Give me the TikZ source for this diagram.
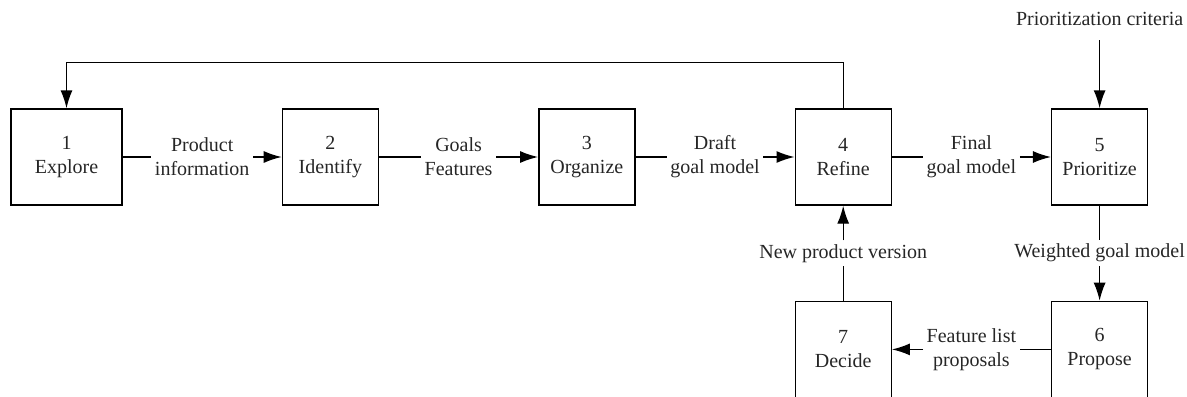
\documentclass[tikz,border=0pt]{standalone}
\usepackage{fontspec}
\setmainfont{Liberation Serif}
\usetikzlibrary{positioning,arrows.meta}

\begin{document}
\begin{tikzpicture}[
                    stage/.style={draw, line width=0.7pt, minimum width=48pt,
                    minimum height=48pt, align=center, text=black!85,
                    font=\fontsize{10}{12}\selectfont},
                    flow/.style={align=center, inner sep=1.5pt, text=black!85,
                    font=\fontsize{10}{12}\selectfont},
                    >={Latex[length=9pt,width=6pt]}, line width=0.7pt,
                ]
                \useasboundingbox (-33.25pt,78.5pt) rectangle (560.25pt,-119.5pt);
                \node[stage, minimum width=55.5pt] (explore) {1\\Explore};
                \node[stage] (identify) [right=79.5pt of explore] {2\\Identify};
                \node[stage] (organize) [right=79.5pt of identify] {3\\Organize};
                \node[stage] (refine) [right=79.5pt of organize] {4\\Refine};
                \node[stage] (prioritize) [right=79.5pt of refine] {5\\Prioritize};
                \node[stage] (propose) [below=47.5pt of prioritize] {6\\Propose};
                \node[stage] (decide) [left=79.5pt of propose] {7\\Decide};

                % labels on the flows
                \path (explore.east) -- node[flow] (prodinfo) {Product\\information} (identify.west);
                \path (identify.east) -- node[flow] (goalsfeat) {Goals\\Features} (organize.west);
                \path (organize.east) -- node[flow] (draftmodel) {Draft\\goal model} (refine.west);
                \path (refine.east) -- node[flow] (finalmodel) {Final\\goal model} (prioritize.west);
                \path (prioritize.south) -- node[flow] (weighted) {Weighted goal model} (propose.north);
                \path (propose.west) -- node[flow] (proposals) {Feature list\\proposals} (decide.east);
                \path (decide.north) -- node[flow] (newversion) {New product version} (refine.south);
                \node[flow] (criteria) [above=39.5pt of prioritize] {Prioritization criteria};

                \draw (explore) -- (prodinfo);
                \draw[->] (prodinfo) -- (identify);
                \draw (identify) -- (goalsfeat);
                \draw[->] (goalsfeat) -- (organize);
                \draw (organize) -- (draftmodel);
                \draw[->] (draftmodel) -- (refine);
                \draw (refine) -- (finalmodel);
                \draw[->] (finalmodel) -- (prioritize);
                \draw[->, shorten <=5.5pt] (criteria) -- (prioritize);
                \draw (prioritize) -- (weighted);
                \draw[->] (weighted) -- (propose);
                \draw (propose) -- (proposals);
                \draw[->] (proposals) -- (decide);
                \draw (decide) -- (newversion);
                \draw[->] (newversion) -- (refine);
                \draw[->] (refine.north) -- ++(0,23pt) -| (explore.north);
            \end{tikzpicture}
\end{document}
